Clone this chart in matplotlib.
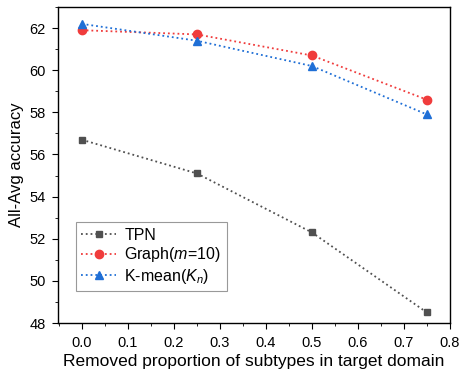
import matplotlib.pyplot as plt
from matplotlib.ticker import MultipleLocator

plt.rcParams['font.family'] = ['Liberation Sans', 'DejaVu Sans']
plt.rcParams['mathtext.fontset'] = 'custom'
plt.rcParams['mathtext.it'] = 'Liberation Sans:italic'
plt.rcParams['mathtext.rm'] = 'Liberation Sans'

x = [0.0, 0.25, 0.5, 0.75]
tpn = [56.7, 55.1, 52.3, 48.5]
graph = [61.9, 61.7, 60.7, 58.6]
kmean = [62.2, 61.4, 60.2, 57.9]

fig = plt.figure(figsize=(4.6, 3.7), dpi=100)
ax = fig.add_axes([0.126, 0.127, 0.852, 0.854])

ax.plot(x, tpn, ':', color='#505050', marker='s', markersize=4.8, lw=1.3, label='TPN')
ax.plot(x, graph, ':', color='#f03c3c', marker='o', markersize=6, lw=1.3,
        label='Graph($\\mathit{m}$=$\\mathit{10}$)')
ax.plot(x, kmean, ':', color='#1f6fd6', marker='^', markersize=6, lw=1.3,
        label='K-mean($\\mathit{K_n}$)')

ax.set_xlim(-0.052, 0.8)
ax.set_ylim(48, 63)
ax.xaxis.set_major_locator(MultipleLocator(0.1))
ax.xaxis.set_minor_locator(MultipleLocator(0.05))
ax.yaxis.set_major_locator(MultipleLocator(2))
ax.yaxis.set_minor_locator(MultipleLocator(1))
ax.tick_params(which='both', direction='out', top=False, right=False, labelsize=10.5)
ax.tick_params(which='major', length=4, pad=5)
ax.tick_params(which='minor', length=2.5)
for s in ax.spines.values():
    s.set_linewidth(1.0)

ax.set_xlabel('Removed proportion of subtypes in target domain', fontsize=12.5, labelpad=3)
ax.set_ylabel('All-Avg accuracy', fontsize=12, labelpad=4)

leg = ax.legend(loc='lower left', bbox_to_anchor=(0.045, 0.1), fontsize=11.5, fancybox=False,
                edgecolor='#808080', handlelength=2.2, borderpad=0.35, labelspacing=0.15, handletextpad=0.5,
                borderaxespad=0)
leg.get_frame().set_linewidth(0.8)

fig.savefig('out.png', dpi=100)
